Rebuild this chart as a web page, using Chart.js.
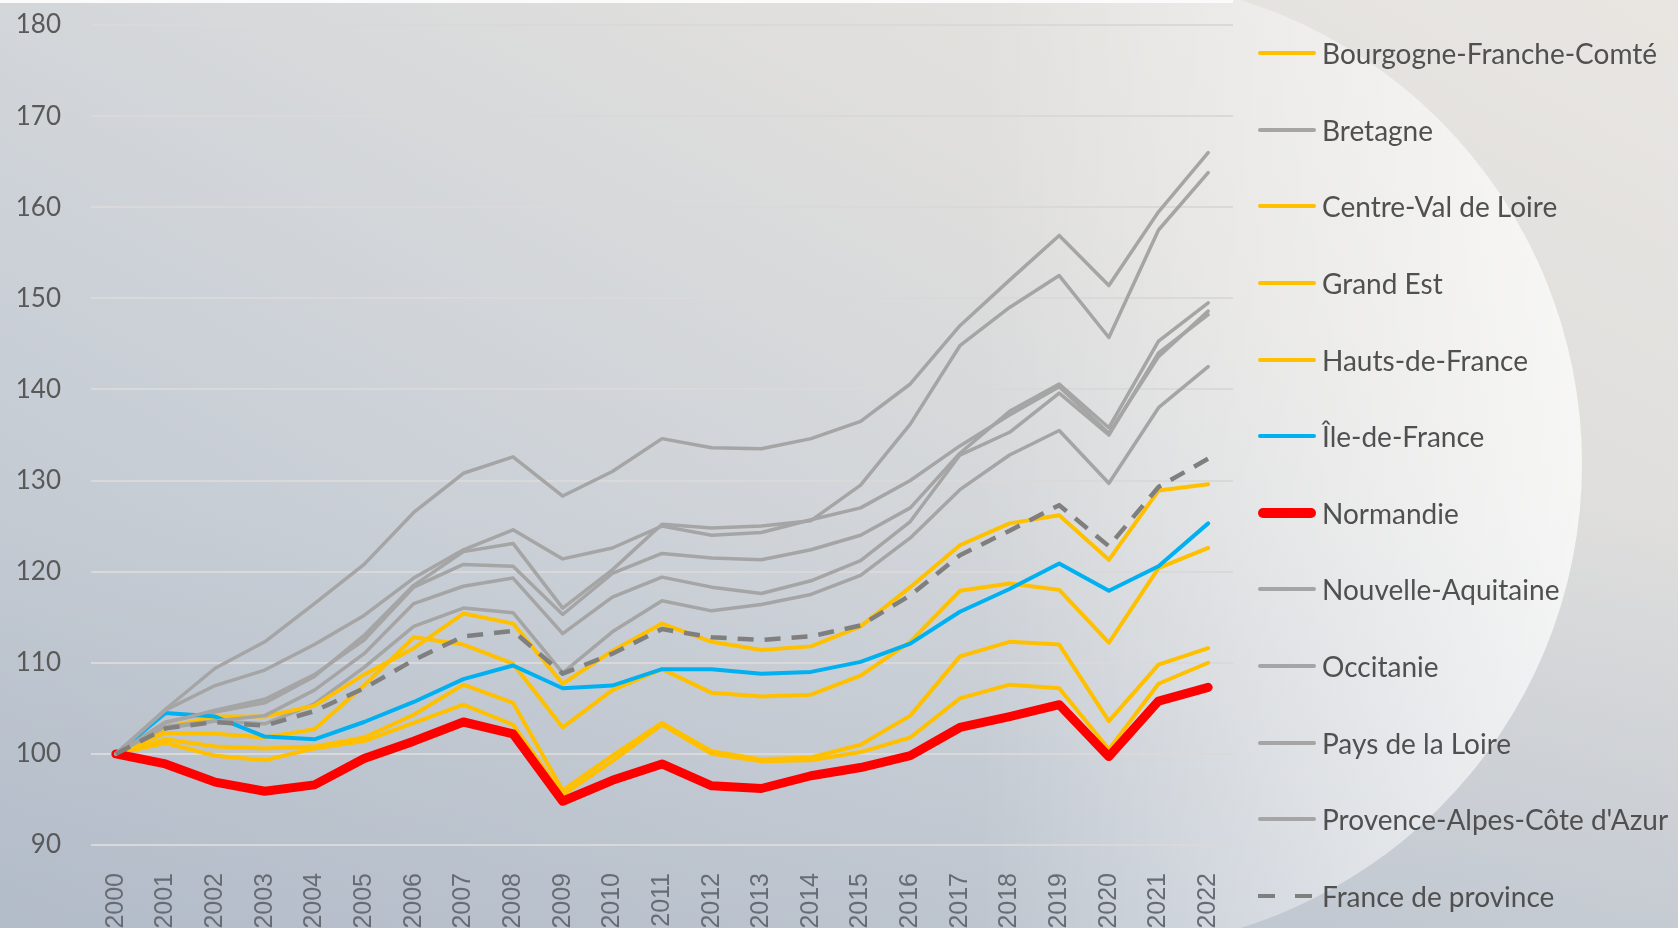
<!DOCTYPE html>
<html lang="fr">
<head>
<meta charset="utf-8">
<title>Évolution des prix par région</title>
<script src="https://cdn.jsdelivr.net/npm/chart.js@4.4.1/dist/chart.umd.min.js"></script>
<style>
    html, body { margin: 0; padding: 0; }
    body { width: 1678px; height: 928px; overflow: hidden; position: relative; background: #d2d6db; }
    #fond {
        position: absolute; left: 0; top: 0; width: 1678px; height: 928px;
        background:
            linear-gradient(to bottom, rgba(255,255,255,0) 55%, rgba(160,172,190,0.25) 100%),
            linear-gradient(to top right, #b8c1cc 0%, #cdd2d8 40%, #e0dfdd 72%, #e9e6e2 100%);
    }
    #disque {
        position: absolute; left: 610px; top: -22px; width: 972px; height: 972px; border-radius: 50%;
        background: linear-gradient(to right, rgba(255,255,255,0) 38%, rgba(255,255,255,0.72) 100%);
    }
    #bandeau { position: absolute; left: 0; top: 0; width: 1233px; height: 3px; background: #fbfbfb; }
    #graphique { position: absolute; left: 0; top: 0; }
    #legende {
        position: absolute; left: 1258px; top: 15px;
        font-family: Lato, "Open Sans", sans-serif; font-size: 28px; color: #505050;
    }
    .item { height: 76.6px; display: flex; align-items: center; white-space: nowrap; }
    .trait { width: 58px; margin-right: 6px; flex: none; }
</style>
</head>
<body>
<div id="fond"></div>
<div id="disque"></div>
<div id="bandeau"></div>
<canvas id="graphique" width="1678" height="928"></canvas>
<div id="legende"></div>
<script>
// Années (axe des abscisses)
const annees = ['2000', '2001', '2002', '2003', '2004', '2005', '2006', '2007', '2008', '2009', '2010', '2011',
    '2012', '2013', '2014', '2015', '2016', '2017', '2018', '2019', '2020', '2021', '2022'];

// Indices base 100 en 2000
const auvergne = [100, 102.8, 103.6, 103.3, 105.5, 109.5, 114.0, 116.0, 115.5, 108.9, 113.4, 116.8, 115.7, 116.4, 117.5, 119.6, 123.7, 129.0, 132.8, 135.5, 129.7, 138.0, 142.5];
const bourgogne = [100, 102.3, 102.2, 101.8, 102.7, 107.5, 112.8, 112.0, 109.9, 102.9, 107.0, 109.3, 106.7, 106.3, 106.5, 108.6, 112.3, 117.9, 118.7, 118.0, 112.2, 120.4, 122.6];
const bretagne = [100, 103.5, 104.6, 105.6, 108.5, 113.0, 118.5, 122.2, 123.1, 116.0, 120.2, 125.2, 124.8, 125.0, 125.6, 129.5, 136.2, 144.8, 149.0, 152.5, 145.7, 157.5, 163.8];
const centre = [100, 102.9, 104.1, 104.1, 105.3, 108.7, 111.6, 115.4, 114.3, 107.7, 111.3, 114.3, 112.3, 111.4, 111.8, 114.0, 118.3, 122.9, 125.3, 126.2, 121.3, 128.9, 129.6];
const grandEst = [100, 101.2, 99.8, 99.3, 100.6, 101.4, 103.4, 105.4, 103.2, 95.5, 99.2, 103.2, 100.0, 99.2, 99.3, 100.2, 101.8, 106.1, 107.6, 107.2, 100.5, 107.7, 110.0];
const hautsDeFrance = [100, 101.6, 100.8, 100.6, 100.8, 101.8, 104.3, 107.6, 105.6, 96.0, 99.8, 103.4, 100.3, 99.4, 99.6, 101.0, 104.2, 110.7, 112.3, 112.0, 103.6, 109.8, 111.6];
const ileDeFrance = [100, 104.5, 104.1, 101.9, 101.6, 103.5, 105.7, 108.2, 109.7, 107.2, 107.5, 109.3, 109.3, 108.8, 109.0, 110.1, 112.1, 115.6, 118.1, 120.9, 117.9, 120.6, 125.3];
const normandie = [100, 98.9, 96.9, 95.9, 96.6, 99.5, 101.4, 103.5, 102.2, 94.8, 97.1, 98.9, 96.5, 96.2, 97.6, 98.5, 99.8, 102.9, 104.1, 105.4, 99.7, 105.8, 107.3];
const nouvelleAquitaine = [100, 104.8, 107.5, 109.2, 112.0, 115.2, 119.3, 122.4, 124.6, 121.4, 122.6, 125.0, 124.0, 124.3, 125.7, 127.0, 130.0, 133.8, 137.2, 140.3, 135.2, 143.6, 148.6];
const occitanie = [100, 103.4, 104.8, 106.0, 108.7, 112.5, 118.3, 120.8, 120.6, 115.3, 119.8, 122.0, 121.5, 121.3, 122.4, 124.0, 127.0, 133.0, 137.6, 140.6, 135.8, 145.3, 149.5];
const paysDeLaLoire = [100, 104.9, 109.4, 112.3, 116.5, 120.8, 126.5, 130.8, 132.6, 128.3, 131.0, 134.6, 133.6, 133.5, 134.6, 136.5, 140.6, 147.0, 152.0, 156.9, 151.4, 159.5, 166.0];
const paca = [100, 103.0, 103.6, 104.2, 107.0, 111.0, 116.5, 118.4, 119.3, 113.2, 117.2, 119.4, 118.3, 117.6, 119.0, 121.2, 125.5, 132.8, 135.3, 139.6, 135.0, 144.0, 148.2];
const franceProvince = [100, 102.8, 103.5, 103.1, 104.7, 107.2, 110.3, 112.9, 113.5, 108.8, 111.0, 113.7, 112.8, 112.5, 112.9, 114.1, 117.4, 121.8, 124.5, 127.3, 122.8, 129.3, 132.4];

// Couleurs
const JAUNE = '#FFC000';
const GRIS = '#A5A5A5';
const BLEU = '#00B0F0';
const ROUGE = '#FF0000';
const GRIS_FONCE = '#7F7F7F';

// Séries dans l'ordre du tableau source (la première n'apparaît pas dans la légende visible)
const series = [
    { nom: 'Auvergne-Rhône-Alpes', valeurs: auvergne, couleur: GRIS, epaisseur: 3.5, legende: false },
    { nom: 'Bourgogne-Franche-Comté', valeurs: bourgogne, couleur: JAUNE, epaisseur: 4 },
    { nom: 'Bretagne', valeurs: bretagne, couleur: GRIS, epaisseur: 3.5 },
    { nom: 'Centre-Val de Loire', valeurs: centre, couleur: JAUNE, epaisseur: 4 },
    { nom: 'Grand Est', valeurs: grandEst, couleur: JAUNE, epaisseur: 4 },
    { nom: 'Hauts-de-France', valeurs: hautsDeFrance, couleur: JAUNE, epaisseur: 4 },
    { nom: 'Île-de-France', valeurs: ileDeFrance, couleur: BLEU, epaisseur: 4 },
    { nom: 'Normandie', valeurs: normandie, couleur: ROUGE, epaisseur: 9 },
    { nom: 'Nouvelle-Aquitaine', valeurs: nouvelleAquitaine, couleur: GRIS, epaisseur: 3.5 },
    { nom: 'Occitanie', valeurs: occitanie, couleur: GRIS, epaisseur: 3.5 },
    { nom: 'Pays de la Loire', valeurs: paysDeLaLoire, couleur: GRIS, epaisseur: 3.5 },
    { nom: "Provence-Alpes-Côte d'Azur", valeurs: paca, couleur: GRIS, epaisseur: 3.5 },
    { nom: 'France de province', valeurs: franceProvince, couleur: GRIS_FONCE, epaisseur: 4.5, tirets: [16, 11] }
];

const datasets = series.map((s, i) => ({
    label: s.nom,
    data: s.valeurs,
    borderColor: s.couleur,
    backgroundColor: s.couleur,
    borderWidth: s.epaisseur,
    borderDash: s.tirets || [],
    borderCapStyle: s.tirets ? 'butt' : 'round',
    borderJoinStyle: 'round',
    pointRadius: 0,
    tension: 0,
    order: series.length - i // la dernière série est dessinée par-dessus
}));

const chart = new Chart(document.getElementById('graphique'), {
    type: 'line',
    data: { labels: annees, datasets: datasets },
    options: {
        responsive: false,
        devicePixelRatio: 1,
        animation: false,
        layout: { padding: { top: 25, right: 445, bottom: 0, left: 0 } },
        plugins: { legend: { display: false }, tooltip: { enabled: false } },
        scales: {
            x: {
                offset: true,
                grid: { display: false },
                border: { display: false },
                ticks: {
                    autoSkip: false,
                    minRotation: 90,
                    maxRotation: 90,
                    padding: 20,
                    color: '#676c74',
                    font: { family: '"Liberation Sans", Arial, sans-serif', size: 25 }
                },
                afterFit: scale => { scale.height = 83; }
            },
            y: {
                min: 90,
                max: 180,
                grid: { color: '#d9d9d9', lineWidth: 2, drawTicks: false },
                border: { display: false },
                ticks: {
                    stepSize: 10,
                    padding: 30,
                    color: '#595959',
                    font: { family: 'Lato, "Open Sans", sans-serif', size: 26 }
                },
                afterFit: scale => {
                    scale.width = 91;
                    // le décalage des libellés ne doit pas repousser le haut de la zone de tracé
                    scale.paddingTop = 0;
                    scale.paddingBottom = 0;
                }
            }
        }
    }
});

// Légende HTML construite à partir des séries du graphique
const legende = document.getElementById('legende');
chart.data.datasets.forEach((ds, i) => {
    if (series[i].legende === false) return;
    const item = document.createElement('div');
    item.className = 'item';
    const trait = document.createElement('div');
    trait.className = 'trait';
    const h = ds.borderWidth >= 6 ? 10 : 4;
    trait.style.height = h + 'px';
    if (ds.borderDash.length) {
        trait.style.background = `linear-gradient(to right, ${ds.borderColor} 0 17px, transparent 17px 37px, ${ds.borderColor} 37px 54px, transparent 54px)`;
    } else {
        trait.style.background = ds.borderColor;
        trait.style.borderRadius = (h / 2) + 'px';
    }
    const texte = document.createElement('span');
    texte.textContent = ds.label;
    item.appendChild(trait);
    item.appendChild(texte);
    legende.appendChild(item);
});
</script>
</body>
</html>
